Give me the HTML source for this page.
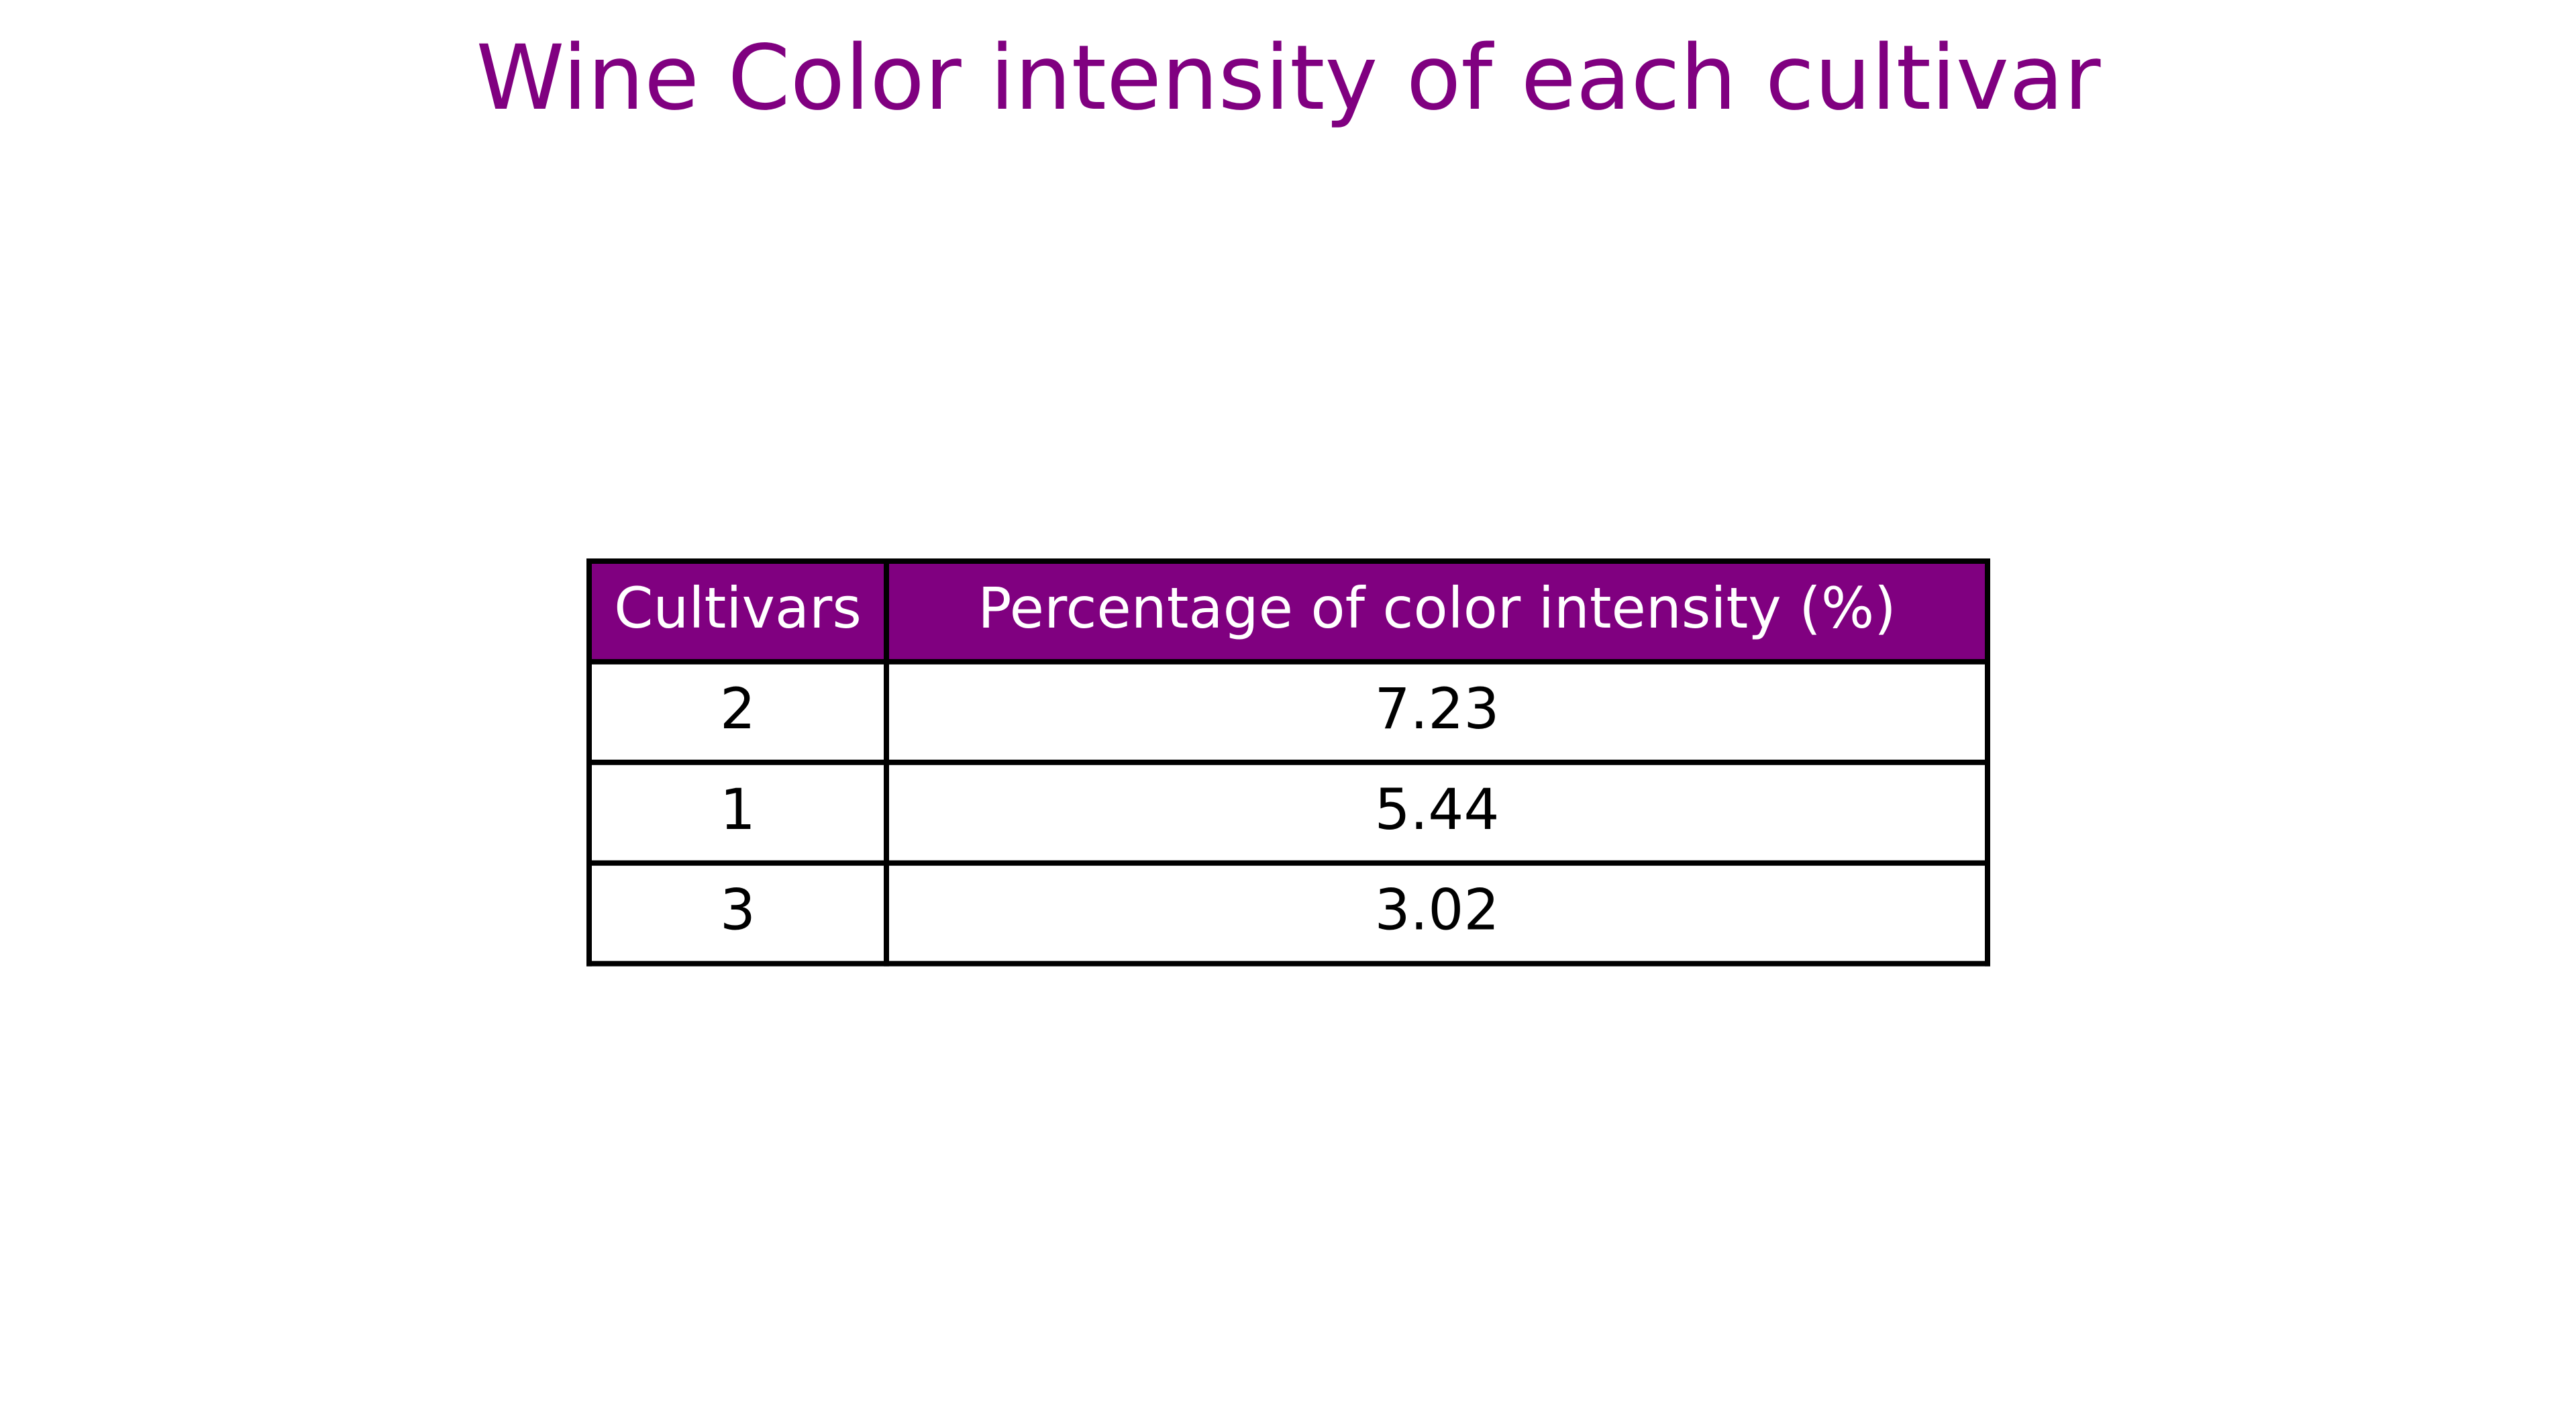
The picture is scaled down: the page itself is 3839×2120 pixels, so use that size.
<!DOCTYPE html>
<html><head><meta charset="utf-8"><style>
html,body{margin:0;padding:0;background:#fff;}
svg{display:block;}
text{font-family:"DejaVu Sans","Liberation Sans",sans-serif;}
</style></head><body>
<svg id="chart" width="3839" height="2120" viewBox="0 0 3839 2120" xmlns="http://www.w3.org/2000/svg">
<rect width="3839" height="2120" fill="#fff"/>
<text x="1920" y="162" text-anchor="middle" font-size="133.4" fill="#800080">Wine Color intensity of each cultivar</text>
<g id="tbl"></g>
</svg>
<script>
const headers = ["Cultivars", "Percentage of color intensity (%)"];
const cultivars = ["2", "1", "3"];
const intensities = ["7.23", "5.44", "3.02"];

const colX = [878, 1321, 2962];
const top0 = 836, rowH = 149.9;
const g = document.getElementById('tbl');
const NS = "http://www.w3.org/2000/svg";
const nRows = cultivars.length + 1;
const bottom = top0 + rowH * nRows;

const hdr = document.createElementNS(NS, 'rect');
hdr.setAttribute('x', colX[0]); hdr.setAttribute('y', top0);
hdr.setAttribute('width', colX[2] - colX[0]); hdr.setAttribute('height', rowH);
hdr.setAttribute('fill', '#800080');


g.appendChild(hdr);

function addText(x, y, s, fill, name) {
  const t = document.createElementNS(NS, 'text');
  t.setAttribute('x', x); t.setAttribute('y', y);
  t.setAttribute('text-anchor', 'middle'); t.setAttribute('font-size', '83.5');
  t.setAttribute('fill', fill);
  t.textContent = s;
  
  
  g.appendChild(t);
}
const cx0 = (colX[0] + colX[1]) / 2, cx1 = (colX[1] + colX[2]) / 2;
addText(cx0, top0 + 99, headers[0], '#fff', 'header-cultivars');
addText(cx1, top0 + 99, headers[1], '#fff', 'header-percentage');
cultivars.forEach((c, i) => {
  const y = top0 + rowH * (i + 1) + 99;
  addText(cx0, y, c, '#000', 'cell-cultivar-' + c);
  addText(cx1, y, intensities[i], '#000', 'cell-intensity-' + c);
});

for (let r = 0; r <= nRows; r++) {
  const l = document.createElementNS(NS, 'line');
  const y = top0 + rowH * r;
  l.setAttribute('x1', colX[0] - 4); l.setAttribute('x2', colX[2] + 4);
  l.setAttribute('y1', y); l.setAttribute('y2', y);
  l.setAttribute('stroke', '#000'); l.setAttribute('stroke-width', '8');
  
  
  g.appendChild(l);
}
colX.forEach(x => {
  const l = document.createElementNS(NS, 'line');
  l.setAttribute('x1', x); l.setAttribute('x2', x);
  l.setAttribute('y1', top0 - 4); l.setAttribute('y2', bottom + 4);
  l.setAttribute('stroke', '#000'); l.setAttribute('stroke-width', '8');
  
  
  g.appendChild(l);
});
</script>
</body></html>
